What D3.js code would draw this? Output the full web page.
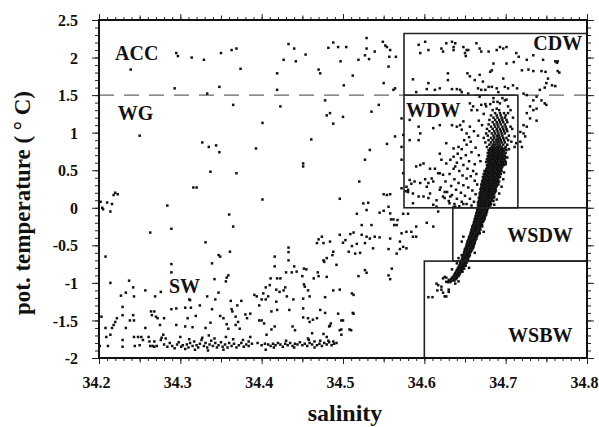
<!DOCTYPE html>
<html><head><meta charset="utf-8">
<script src="https://cdn.jsdelivr.net/npm/d3@7"></script>
<style>
html,body{margin:0;padding:0;background:#fff;}
svg{display:block;}
text{font-family:"Liberation Serif","Times New Roman",serif;font-weight:bold;fill:#111;}
</style></head>
<body>
<svg id="chart" width="599" height="427"></svg>
<script>
// ---------- tick labels ----------
const xTickValues = [34.2, 34.3, 34.4, 34.5, 34.6, 34.7, 34.8];
const xTickLabels = ["34.2", "34.3", "34.4", "34.5", "34.6", "34.7", "34.8"];
const yTickValues = [-2, -1.5, -1, -0.5, 0, 0.5, 1, 1.5, 2, 2.5];
const yTickLabels = ["-2", "-1.5", "-1", "-0.5", "0", "0.5", "1", "1.5", "2", "2.5"];

// ---------- water mass boxes (salinity / temperature limits) ----------
const boxCDW  = {name: "CDW",  s0: 34.575, s1: 34.8,   t0: 1.5,   t1: 2.32};
const boxWDW  = {name: "WDW",  s0: 34.575, s1: 34.715, t0: 0,     t1: 1.5};
const boxWSDW = {name: "WSDW", s0: 34.635, s1: 34.8,   t0: -0.71, t1: 0};
const boxWSBW = {name: "WSBW", s0: 34.6,   s1: 34.8,   t0: -2,    t1: -0.71};
const frontTemp = 1.5; // ACC / WG boundary

// ---------- observations [salinity, pot. temperature] ----------
const upperPoints = [
[34.295,2.06],[34.297,2.02],[34.314,2.0],[34.329,1.97],[34.35,2.06],[34.363,2.1],[34.369,2.12],[34.374,1.85],
[34.239,1.84],[34.293,1.59],[34.333,1.52],[34.348,1.61],[34.419,1.57],[34.419,1.79],[34.427,1.97],[34.433,2.18],
[34.44,2.12],[34.442,1.95],[34.365,1.37],[34.423,1.35],[34.401,1.13],[34.25,0.96],[34.327,0.87],[34.335,0.81],
[34.344,0.83],[34.348,0.74],[34.393,0.79],[34.337,0.48],[34.369,0.46],[34.316,0.27],[34.32,0.27],[34.401,0.11],
[34.284,0.03],[34.22,0.2],[34.223,0.18],[34.218,0.17],[34.21,0.07],[34.216,0.05],[34.204,0.0],[34.202,0.08],
[34.205,-0.02],[34.214,-0.05],
[34.454,2.04],[34.47,1.84],[34.472,1.79],[34.488,2.2],[34.482,2.13],[34.494,2.14],[34.504,2.14],[34.497,1.95],
[34.512,1.76],[34.501,1.63],[34.519,1.97],[34.527,2.03],[34.529,2.26],[34.532,1.98],[34.529,2.12],[34.539,2.08],
[34.549,2.21],[34.552,2.16],[34.554,2.14],[34.557,2.01],[34.558,2.1],[34.556,1.88],[34.55,1.66],[34.565,2.01],
[34.562,1.57],[34.564,1.59],[34.478,1.43],[34.48,1.23],[34.484,1.26],[34.488,1.12],[34.5,1.21],[34.535,1.28],
[34.544,1.37],[34.461,0.91],[34.554,0.85],[34.564,0.95],[34.527,0.64],[34.533,0.77],[34.52,0.35],[34.55,0.18],
[34.554,0.17],[34.558,0.18],[34.451,0.55],[34.451,0.59],[34.496,0.12],[34.572,0.81],[34.572,0.64],[34.574,0.46]
];

const shelfPoints = [
[34.208,-0.65],[34.214,-1.0],[34.263,-0.33],[34.203,-1.45],[34.208,-1.6],[34.209,-1.72],[34.201,-1.84],[34.211,-1.84],
[34.214,-1.69],[34.216,-1.6],[34.218,-1.56],[34.222,-1.47],[34.22,-1.52],[34.227,-1.17],[34.229,-1.32],[34.229,-1.43],
[34.233,-1.13],[34.237,-0.97],[34.242,-1.06],[34.243,-1.18],[34.238,-1.5],[34.243,-1.5],[34.233,-1.6],[34.242,-1.43],
[34.257,-1.1],[34.229,-1.76],[34.229,-1.85],[34.243,-1.72],[34.248,-1.72],[34.252,-1.72],[34.244,-1.84],[34.25,-1.83],
[34.257,-1.6],[34.254,-1.76],[34.261,-1.72],[34.262,-1.78],[34.263,-1.84],[34.264,-1.38],[34.265,-1.43],[34.268,-1.38],
[34.27,-1.45],[34.272,-1.47],[34.269,-1.18],[34.266,-1.84],[34.268,-1.85],[34.271,-1.84],[34.268,-1.78],[34.277,-1.73],
[34.279,-1.69],[34.275,-1.56],
[34.289,-0.28],[34.331,-0.46],[34.289,-0.75],[34.289,-0.86],[34.36,-0.09],[34.365,-0.25],[34.361,-0.585],[34.347,-0.63],
[34.349,-0.65],[34.339,-0.74],[34.359,-0.9],[34.357,-0.93],[34.356,-0.98],[34.342,-0.95],[34.276,-1.12],[34.311,-1.22],
[34.312,-1.23],[34.289,-1.35],[34.295,-1.34],[34.306,-1.33],[34.313,-1.33],[34.324,-1.3],[34.333,-1.18],[34.339,-1.35],
[34.319,-1.44],[34.309,-1.47],[34.295,-1.56],[34.28,-1.47],[34.306,-1.58],[34.315,-1.59],[34.331,-1.6],[34.337,-1.53],
[34.343,-1.22],[34.347,-1.13],[34.362,-1.24],[34.363,-1.35],[34.364,-1.38],[34.357,-1.55],[34.359,-1.61],[34.349,-1.44],
[34.353,-1.47],[34.37,-1.3],[34.375,-1.24],[34.368,-1.45],[34.371,-1.52],[34.373,-1.61],[34.38,-1.42],[34.382,-1.47],
[34.386,-1.41],[34.368,-1.56],[34.391,-1.16],[34.394,-1.18],[34.397,-1.3],[34.397,-1.5],[34.4,-1.5],[34.402,-1.14],
[34.405,-1.06],[34.41,-1.03],[34.4,-1.22],[34.405,-1.22],[34.408,-1.18],[34.412,-1.38],[34.416,-0.65],[34.416,-0.78],
[34.411,-0.94],[34.419,-0.94],[34.423,-0.94],[34.418,-1.09],[34.422,-1.12],[34.427,-1.1],[34.429,-1.06],[34.431,-1.18],
[34.433,-0.53],[34.433,-0.59],[34.433,-0.7],[34.43,-0.86],[34.437,-0.86],[34.44,-0.78],[34.443,-0.85],[34.452,-0.81],
[34.455,-0.82],[34.45,-0.91],[34.452,-1.02],[34.418,-1.25],[34.419,-1.36],[34.434,-1.36],[34.439,-1.22],[34.451,-1.21],
[34.457,-1.1],[34.459,-1.18],[34.464,-0.94],[34.47,-0.91],[34.468,-0.47],[34.476,-0.47],[34.47,-0.42],[34.474,-0.385],
[34.484,-0.45],[34.488,-0.585],[34.48,-0.67],[34.487,-0.63],[34.476,-0.7],[34.477,-0.72],[34.492,-0.76],[34.469,-0.86],
[34.48,-0.92],[34.496,-0.36],[34.5,-0.465],[34.503,-0.43],[34.507,-0.585],[34.511,-0.51],[34.509,-0.35],[34.513,-0.33],
[34.517,-0.48],[34.496,-1.09],[34.511,-1.14],[34.513,-1.16],[34.451,-1.34],[34.457,-1.47],[34.459,-1.52],[34.468,-1.47],
[34.472,-1.36],[34.483,-1.58],[34.485,-1.54],[34.494,-1.41],[34.5,-1.5],[34.513,-1.41],[34.496,-1.63],[34.51,-1.63],
[34.476,-1.68],[34.48,-1.72],[34.482,-1.77],[34.462,-1.67],[34.457,-1.74],[34.416,-1.58],[34.412,-1.62],[34.403,-1.54],
[34.438,-1.58],[34.441,-1.63],[34.406,-1.69],[34.386,-1.72],[34.384,-1.78],[34.377,-1.76],
[34.453,-1.05],[34.478,-1.19],[34.488,-1.1],[34.451,-1.46],[34.478,-1.4],[34.498,-1.5],[34.463,-1.49],[34.484,-1.57],
[34.498,-1.62],[34.508,-1.62],[34.498,-1.69],[34.512,-1.4]
];

const freezingPoints = [
[34.28,-1.82],[34.284,-1.85],[34.287,-1.8],[34.29,-1.84],[34.293,-1.87],[34.296,-1.82],[34.298,-1.79],[34.301,-1.85],
[34.303,-1.83],[34.306,-1.88],[34.308,-1.82],[34.31,-1.86],[34.312,-1.8],[34.315,-1.84],[34.317,-1.78],[34.32,-1.83],
[34.322,-1.86],[34.324,-1.81],[34.326,-1.76],[34.329,-1.84],[34.331,-1.8],[34.333,-1.86],[34.336,-1.82],[34.338,-1.77],
[34.34,-1.84],[34.343,-1.8],[34.345,-1.86],[34.347,-1.83],[34.35,-1.79],[34.352,-1.85],[34.355,-1.82],[34.358,-1.86],
[34.36,-1.8],[34.363,-1.84],[34.366,-1.81],[34.369,-1.86],[34.372,-1.83],[34.375,-1.8],[34.378,-1.85],[34.381,-1.82],
[34.384,-1.84],[34.388,-1.81],[34.276,-1.76],[34.282,-1.74],[34.3,-1.72],[34.311,-1.75],[34.327,-1.73],[34.335,-1.7],
[34.342,-1.74],[34.356,-1.72],[34.365,-1.75],[34.318,-1.89],[34.334,-1.9],[34.353,-1.89],
[34.4,-1.83],[34.404,-1.81],[34.408,-1.82],[34.411,-1.84],[34.414,-1.81],[34.417,-1.83],[34.42,-1.8],[34.423,-1.82],
[34.426,-1.85],[34.429,-1.81],[34.432,-1.83],[34.435,-1.8],[34.438,-1.84],[34.441,-1.81],[34.444,-1.82],[34.447,-1.79],
[34.45,-1.83],[34.453,-1.81],[34.456,-1.84],[34.459,-1.8],[34.462,-1.82],[34.465,-1.78],[34.468,-1.83],[34.471,-1.81],
[34.474,-1.84],[34.477,-1.8],[34.48,-1.82],[34.483,-1.79],[34.486,-1.83],[34.489,-1.81],[34.492,-1.8],[34.458,-1.76],
[34.472,-1.77],[34.488,-1.78],[34.43,-1.77],[34.405,-1.89],[34.44,-1.86],[34.465,-1.86],[34.395,-1.8],[34.415,-1.86]
];

const midPoints = [
[34.525,0.058],[34.531,0.067],[34.529,-0.03],[34.517,-0.08],[34.545,-0.065],[34.55,-0.04],[34.556,0.014],[34.558,-0.075],
[34.559,-0.155],[34.562,-0.155],[34.567,-0.163],[34.563,-0.23],[34.566,-0.23],[34.574,-0.08],[34.58,-0.08],[34.59,-0.25],
[34.584,-0.32],[34.603,-0.2],[34.611,-0.25],[34.523,-0.23],[34.535,-0.23],[34.523,-0.36],[34.529,-0.385],[34.533,-0.41],
[34.539,-0.385],[34.545,-0.394],[34.558,-0.41],[34.57,-0.45],[34.572,-0.34],[34.578,-0.32],[34.586,-0.385],[34.59,-0.385],
[34.515,-0.61],[34.521,-0.6],[34.527,-0.47],[34.537,-0.54],[34.556,-0.55],[34.566,-0.61],[34.57,-0.55],[34.574,-0.52],
[34.578,-0.54],[34.519,-0.91],[34.527,-0.83],[34.529,-0.865],[34.556,-0.9],[34.558,-0.95],[34.56,-0.81],
[34.605,-1.19],[34.61,-1.19],[34.616,-1.1],[34.617,-1.03],[34.621,-1.09],[34.623,-1.13],[34.627,-1.18],[34.625,-1.18],
[34.63,-1.09],[34.627,-0.93],[34.63,-0.96],[34.627,-0.985],[34.623,-0.94],[34.625,-0.92],[34.615,-1.01],[34.621,-1.05],
[34.63,-1.12],[34.638,-1.01],[34.642,-0.98],[34.615,0.014],[34.617,-0.05],[34.638,0.014],[34.648,0.05],
[34.648,-0.385],[34.65,-0.56],[34.662,-0.6],[34.668,-0.34],[34.673,-0.32],[34.646,-0.45],[34.64,-0.74],[34.642,-0.67],
[34.646,-0.63],[34.67,-0.14],[34.66,-0.52],[34.655,-0.8],[34.634,-0.82]
];

const cdwPoints = [
[34.593,2.17],[34.595,2.06],[34.601,2.21],[34.605,2.1],[34.621,2.12],[34.623,2.08],[34.627,2.19],[34.634,2.21],
[34.636,2.14],[34.636,2.1],[34.638,2.19],[34.648,2.14],[34.65,2.06],[34.652,2.1],[34.654,2.1],[34.664,2.19],
[34.668,2.12],[34.67,2.08],[34.679,2.08],[34.689,2.1],[34.693,2.14],[34.697,2.12],[34.701,2.14],[34.651,2.02],
[34.713,2.06],[34.716,2.01],[34.71,1.94],[34.701,1.92],[34.685,1.92],[34.726,1.97],[34.734,2.03],[34.746,1.97],
[34.763,1.93],[34.764,1.95],[34.72,1.83],[34.728,1.84],[34.734,1.82],[34.744,1.82],[34.764,1.82],[34.766,1.8],
[34.629,1.79],[34.653,1.79],[34.656,1.75],[34.668,1.77],[34.681,1.81],[34.683,1.83],[34.697,1.72],[34.709,1.63],
[34.586,1.71],[34.605,1.66],[34.629,1.7],[34.662,1.7],[34.672,1.68],[34.679,1.61],
[34.59,1.54],[34.603,1.58],[34.613,1.57],[34.619,1.59],[34.634,1.58],[34.64,1.58],[34.644,1.57],[34.646,1.54],
[34.654,1.52],[34.666,1.59],[34.67,1.57],[34.675,1.57],[34.683,1.61],[34.689,1.59],[34.691,1.54],[34.699,1.61],
[34.703,1.59],[34.714,1.59],[34.722,1.52],[34.726,1.5],
[34.752,1.72],[34.75,1.66],[34.757,1.63],[34.761,1.62],[34.748,1.6],[34.742,1.57],[34.738,1.48],[34.734,1.43],
[34.744,1.43],[34.748,1.39],[34.75,1.37],[34.73,1.35],[34.734,1.3],[34.738,1.32],[34.726,1.26],[34.73,1.19],
[34.738,1.16],[34.722,1.1],[34.726,1.08],[34.718,1.01],[34.722,0.99],[34.724,0.95],[34.718,0.88],[34.72,0.81],
[34.713,0.86],[34.711,0.81],[34.761,1.95],[34.749,1.81]
];

const wdwScatter = [
[34.582,1.17],[34.593,1.08],[34.595,0.99],[34.582,0.9],[34.574,0.97],[34.611,1.06],[34.619,1.1],[34.627,0.86],
[34.634,1.1],[34.64,1.08],[34.644,1.1],[34.658,1.3],[34.66,1.35],[34.67,1.37],[34.675,1.38],[34.685,1.41],
[34.699,1.43],[34.703,1.35],[34.703,1.26],[34.599,0.59],[34.595,0.57],[34.59,0.55],[34.607,0.52],[34.619,0.46],
[34.582,0.37],[34.584,0.32],[34.588,0.35],[34.595,0.33],[34.601,0.38],[34.611,0.35],[34.603,0.28],[34.578,0.28],
[34.58,0.21],[34.586,0.19],[34.593,0.15],[34.607,0.19],[34.619,0.24],[34.625,0.21],[34.632,0.15],
[34.593,0.9],[34.58,0.24],[34.577,0.22],[34.605,0.33],[34.613,0.52],[34.617,0.46],[34.609,0.39],[34.623,0.44],
[34.627,0.59],[34.632,0.64],[34.636,0.68],[34.638,0.55],[34.636,0.79],[34.642,0.81],[34.619,0.72],[34.621,0.64],
[34.646,1.04],[34.652,0.99],[34.656,1.08],[34.648,1.15],[34.656,1.39],[34.599,0.15],[34.605,0.13],[34.615,0.1],
[34.623,0.15],[34.586,0.06],[34.611,0.04],[34.631,0.06],[34.636,0.01],[34.572,1.19],[34.572,0.26],
[34.641,0.72],[34.645,0.66],[34.651,0.7],[34.655,0.62],[34.658,0.74],[34.662,0.58],[34.648,0.57],[34.653,0.52],
[34.66,0.49],[34.664,0.45],[34.643,0.49],[34.647,0.43],[34.652,0.39],[34.657,0.42],[34.662,0.36],[34.665,0.31],
[34.637,0.38],[34.642,0.33],[34.648,0.3],[34.654,0.27],[34.659,0.23],[34.663,0.18],[34.633,0.29],[34.639,0.24],
[34.645,0.2],[34.65,0.16],[34.656,0.12],[34.661,0.08],[34.628,0.21],[34.634,0.17],[34.64,0.12],[34.646,0.08],
[34.652,0.05],[34.658,0.03],[34.63,0.09],[34.637,0.05],[34.643,0.02],[34.625,0.13],[34.62,0.27],[34.626,0.35],
[34.631,0.45],[34.636,0.52],[34.64,0.6],[34.646,0.78],[34.652,0.84],[34.657,0.88],[34.663,0.8],[34.667,0.7],
[34.669,0.62],[34.666,0.96],[34.661,1.02],[34.655,0.94],[34.649,0.9],[34.671,1.1],[34.667,1.16],[34.673,1.25],
[34.665,1.3],[34.676,1.35],[34.681,1.38],[34.69,1.41],[34.696,1.46],[34.706,1.3],[34.709,1.2],[34.708,1.05],
[34.711,0.95],[34.707,0.88],[34.704,0.78],[34.702,0.67],[34.7,0.58],[34.698,0.47],[34.697,0.38],[34.695,0.28],
[34.692,0.19],[34.689,0.11],[34.686,0.04],[34.701,1.44],[34.693,1.39],[34.689,1.32],[34.668,1.48],[34.685,1.46]
];

// dense deep-water core: each row = [temperature, salinity values observed at it]
const coreRows = [
[-0.99,34.629,34.632],[-0.97,34.631,34.634,34.637],[-0.95,34.633,34.636,34.639],[-0.93,34.634,34.637,34.640],
[-0.91,34.636,34.639,34.642],[-0.89,34.637,34.640,34.643],[-0.87,34.638,34.641,34.644],[-0.85,34.639,34.642,34.645,34.647],
[-0.83,34.640,34.643,34.646],[-0.81,34.641,34.644,34.647,34.649],[-0.79,34.642,34.645,34.648],[-0.77,34.643,34.646,34.649,34.651],
[-0.75,34.644,34.647,34.650],[-0.73,34.644,34.647,34.650,34.652],[-0.71,34.645,34.648,34.651,34.653],[-0.69,34.646,34.649,34.652,34.654],
[-0.67,34.647,34.650,34.653],[-0.65,34.647,34.650,34.653,34.655],[-0.63,34.648,34.651,34.654,34.656],[-0.61,34.649,34.652,34.655],
[-0.59,34.649,34.652,34.655,34.657],[-0.57,34.650,34.653,34.656,34.658],[-0.55,34.650,34.653,34.656,34.659],[-0.53,34.651,34.654,34.657,34.660],
[-0.51,34.652,34.655,34.658,34.660],[-0.49,34.652,34.655,34.658,34.661],[-0.47,34.653,34.656,34.659,34.662],[-0.45,34.653,34.656,34.659,34.662],
[-0.43,34.654,34.657,34.660,34.663],[-0.41,34.655,34.658,34.661,34.664],[-0.39,34.655,34.658,34.661,34.664],[-0.37,34.656,34.659,34.662,34.665],
[-0.35,34.657,34.660,34.663,34.666],[-0.33,34.657,34.660,34.663,34.666,34.668],[-0.31,34.658,34.661,34.664,34.667],[-0.29,34.658,34.661,34.664,34.667,34.669],
[-0.27,34.659,34.662,34.665,34.668],[-0.25,34.659,34.662,34.665,34.668,34.671],[-0.23,34.660,34.663,34.666,34.669,34.671],[-0.21,34.661,34.664,34.667,34.670],
[-0.19,34.661,34.664,34.667,34.670,34.672],[-0.17,34.662,34.665,34.668,34.671,34.673],[-0.15,34.662,34.665,34.668,34.671,34.674],[-0.13,34.663,34.666,34.669,34.672,34.674],
[-0.11,34.663,34.666,34.669,34.672,34.675],[-0.09,34.664,34.667,34.670,34.673,34.676],[-0.07,34.664,34.667,34.670,34.673,34.676],[-0.05,34.665,34.668,34.671,34.674,34.677],
[-0.03,34.665,34.668,34.671,34.674,34.677],[-0.01,34.666,34.669,34.672,34.675,34.678],
[0.01,34.667,34.670,34.673,34.676,34.679],[0.03,34.666,34.669,34.672,34.675,34.678,34.681],[0.05,34.667,34.670,34.673,34.676,34.679,34.682],
[0.07,34.666,34.669,34.672,34.675,34.678,34.681],[0.09,34.667,34.670,34.673,34.676,34.679,34.682,34.685],[0.11,34.668,34.671,34.674,34.677,34.680,34.683],
[0.13,34.667,34.670,34.673,34.676,34.679,34.682,34.685],[0.15,34.668,34.671,34.674,34.677,34.680,34.683,34.686],[0.17,34.669,34.672,34.675,34.678,34.681,34.684],
[0.19,34.668,34.671,34.674,34.677,34.680,34.683,34.686],[0.21,34.669,34.672,34.675,34.678,34.681,34.684,34.687],[0.23,34.670,34.673,34.676,34.679,34.682,34.685,34.688],
[0.25,34.669,34.672,34.675,34.678,34.681,34.684,34.687],[0.27,34.670,34.673,34.676,34.679,34.682,34.685,34.688],[0.29,34.671,34.674,34.677,34.680,34.683,34.686,34.689],
[0.31,34.670,34.673,34.676,34.679,34.682,34.685,34.688,34.691],[0.33,34.672,34.675,34.678,34.681,34.684,34.687,34.690],[0.35,34.671,34.674,34.677,34.680,34.683,34.686,34.689,34.692],
[0.37,34.672,34.675,34.678,34.681,34.684,34.687,34.690],[0.39,34.673,34.676,34.679,34.682,34.685,34.688,34.691],[0.41,34.672,34.675,34.678,34.681,34.684,34.687,34.690,34.693],
[0.43,34.674,34.677,34.680,34.683,34.686,34.689,34.692],[0.45,34.673,34.676,34.679,34.682,34.685,34.688,34.691,34.694],[0.47,34.675,34.678,34.681,34.684,34.687,34.690,34.693],
[0.49,34.674,34.677,34.680,34.683,34.686,34.689,34.692,34.695],[0.51,34.676,34.679,34.682,34.685,34.688,34.691,34.694],[0.53,34.677,34.680,34.683,34.686,34.689,34.692,34.695],
[0.55,34.678,34.681,34.684,34.687,34.690,34.693,34.696],
[0.57,34.677,34.680,34.683,34.686,34.689,34.692,34.695,34.698],[0.59,34.679,34.682,34.685,34.688,34.691,34.694,34.697],
[0.61,34.676,34.679,34.682,34.685,34.688,34.691,34.694,34.697,34.700],[0.63,34.678,34.681,34.684,34.687,34.690,34.693,34.696,34.699],
[0.65,34.677,34.680,34.683,34.686,34.689,34.692,34.695,34.698],[0.67,34.679,34.682,34.685,34.688,34.691,34.694,34.697,34.700],
[0.69,34.678,34.681,34.684,34.687,34.690,34.693,34.696,34.699],[0.71,34.680,34.683,34.686,34.689,34.692,34.695,34.698],
[0.73,34.678,34.681,34.684,34.687,34.690,34.693,34.696,34.700],[0.75,34.680,34.683,34.686,34.689,34.692,34.695,34.698],
[0.77,34.679,34.682,34.685,34.688,34.691,34.694,34.697,34.701],[0.79,34.681,34.684,34.687,34.690,34.693,34.696,34.699],
[0.81,34.677,34.683,34.686,34.689,34.692,34.695,34.700],[0.84,34.680,34.684,34.687,34.690,34.693,34.697,34.702],
[0.87,34.675,34.682,34.686,34.689,34.692,34.695,34.699],[0.90,34.679,34.684,34.688,34.691,34.694,34.698,34.703],
[0.93,34.673,34.682,34.686,34.690,34.693,34.697,34.701],[0.96,34.678,34.685,34.689,34.692,34.696,34.704],
[0.99,34.676,34.683,34.687,34.691,34.695,34.699],[1.02,34.680,34.686,34.690,34.694,34.698,34.702],
[1.05,34.677,34.684,34.689,34.693,34.697,34.701],[1.08,34.682,34.687,34.691,34.696,34.700,34.706],
[1.11,34.679,34.686,34.690,34.694,34.699],[1.14,34.684,34.689,34.693,34.697,34.702],
[1.17,34.680,34.687,34.692,34.696,34.701],[1.20,34.685,34.690,34.695,34.699],
[1.23,34.682,34.689,34.694,34.700],[1.26,34.687,34.693,34.698],[1.30,34.684,34.692]
];

// ---------- drawing ----------
const svg = d3.select("#chart");
const L = 99, R = 587, T = 20, B = 358;
const x = d3.scaleLinear().domain([34.2, 34.8]).range([L, R]);
const y = d3.scaleLinear().domain([-2, 2.5]).range([B, T]);

const corePoints = [];
coreRows.forEach(r => { for (let i = 1; i < r.length; i++) corePoints.push([r[i], r[0]]); });
const allPoints = [].concat(upperPoints, shelfPoints, freezingPoints, midPoints, cdwPoints, wdwScatter, corePoints);

// dashed front line
svg.append("line")
  .attr("x1", x(34.2)).attr("x2", x(34.8))
  .attr("y1", y(frontTemp)).attr("y2", y(frontTemp))
  .attr("stroke", "#666").attr("stroke-width", 1.3)
  .attr("stroke-dasharray", "15,10");

// points
const ms = 2.5;
svg.append("g").selectAll("rect").data(allPoints).join("rect")
  .attr("x", d => x(d[0]) - ms / 2)
  .attr("y", d => y(d[1]) - ms / 2)
  .attr("width", ms).attr("height", ms)
  .attr("fill", "#111");

// boxes
const boxG = svg.append("g").attr("fill", "none").attr("stroke", "#222").attr("stroke-width", 1.6);
[boxWDW, boxWSDW, boxWSBW].forEach(b => {
  boxG.append("rect")
    .attr("x", x(b.s0)).attr("y", y(b.t1))
    .attr("width", x(b.s1) - x(b.s0)).attr("height", y(b.t0) - y(b.t1));
});
boxG.append("path")
  .attr("d", `M${x(boxCDW.s0)},${y(boxCDW.t0)}V${y(boxCDW.t1)}H${x(boxCDW.s1)}`);

// axes ticks
function ticks(axisFn, values, size, yPos, xPos, labels) {
  const g = svg.append("g").attr("transform", `translate(${xPos},${yPos})`);
  const ax = axisFn.tickValues(values).tickSizeInner(size).tickSizeOuter(0);
  if (labels) ax.tickFormat((d, i) => labels[i]); else ax.tickFormat("");
  g.call(ax);
  g.select(".domain").remove();
  g.selectAll(".tick line").attr("stroke", "#222").attr("stroke-width", 1);
  return g;
}
const xMinor = d3.range(34.2, 34.8001, 0.01).map(v => +v.toFixed(2));
const xMid = [34.25, 34.35, 34.45, 34.55, 34.65, 34.75];
const yMinor = d3.range(-2, 2.5001, 0.1).map(v => +v.toFixed(1));

ticks(d3.axisBottom(x), xMinor, 3, B, 0);
ticks(d3.axisBottom(x), xMid, 4.5, B, 0);
const xb = ticks(d3.axisBottom(x), xTickValues, 6, B, 0, xTickLabels);
xb.selectAll("text").attr("dy", null).attr("y", 30).attr("x", -3).style("font-size", "16px")
  .style("font-family", '"Liberation Serif","Times New Roman",serif').style("font-weight", "bold").attr("fill", "#111");
ticks(d3.axisTop(x), xMinor, 3, T, 0);
ticks(d3.axisTop(x), xMid, 4.5, T, 0);
ticks(d3.axisTop(x), xTickValues, 6, T, 0);

ticks(d3.axisLeft(y), yMinor, 4, 0, L);
const yl = ticks(d3.axisLeft(y), yTickValues, 7, 0, L, yTickLabels);
yl.selectAll("text").attr("x", -21).attr("dy", "0.35em").style("font-size", "16px")
  .style("font-family", '"Liberation Serif","Times New Roman",serif').style("font-weight", "bold").attr("fill", "#111");
ticks(d3.axisRight(y), yMinor, 4, 0, R);
ticks(d3.axisRight(y), yTickValues, 7, 0, R);

// frame
svg.append("rect").attr("x", L).attr("y", T).attr("width", R - L).attr("height", B - T)
  .attr("fill", "none").attr("stroke", "#111").attr("stroke-width", 2);

// region labels (anchored at salinity / temperature of the label's baseline start)
const regionLabels = [
  {t: "ACC",  s: 34.2197, v: 1.97},
  {t: "WG",   s: 34.223,  v: 1.162},
  {t: "SW",   s: 34.286,  v: -1.13},
  {t: "CDW",  s: 34.734,  v: 2.094},
  {t: "WDW",  s: 34.5776, v: 1.212},
  {t: "WSDW", s: 34.702,  v: -0.452},
  {t: "WSBW", s: 34.703,  v: -1.784}
];
svg.append("g").selectAll("text").data(regionLabels).join("text")
  .attr("x", d => x(d.s)).attr("y", d => y(d.v))
  .style("font-size", "20px").text(d => d.t);

// axis titles
svg.append("text").attr("x", 345).attr("y", 421).attr("text-anchor", "middle")
  .style("font-size", "24px").text("salinity");
svg.append("text").attr("transform", "translate(30,203) rotate(-90)").attr("text-anchor", "middle")
  .style("font-size", "23px").text("pot. temperature ( \u00B0 C)");
</script>
</body></html>
